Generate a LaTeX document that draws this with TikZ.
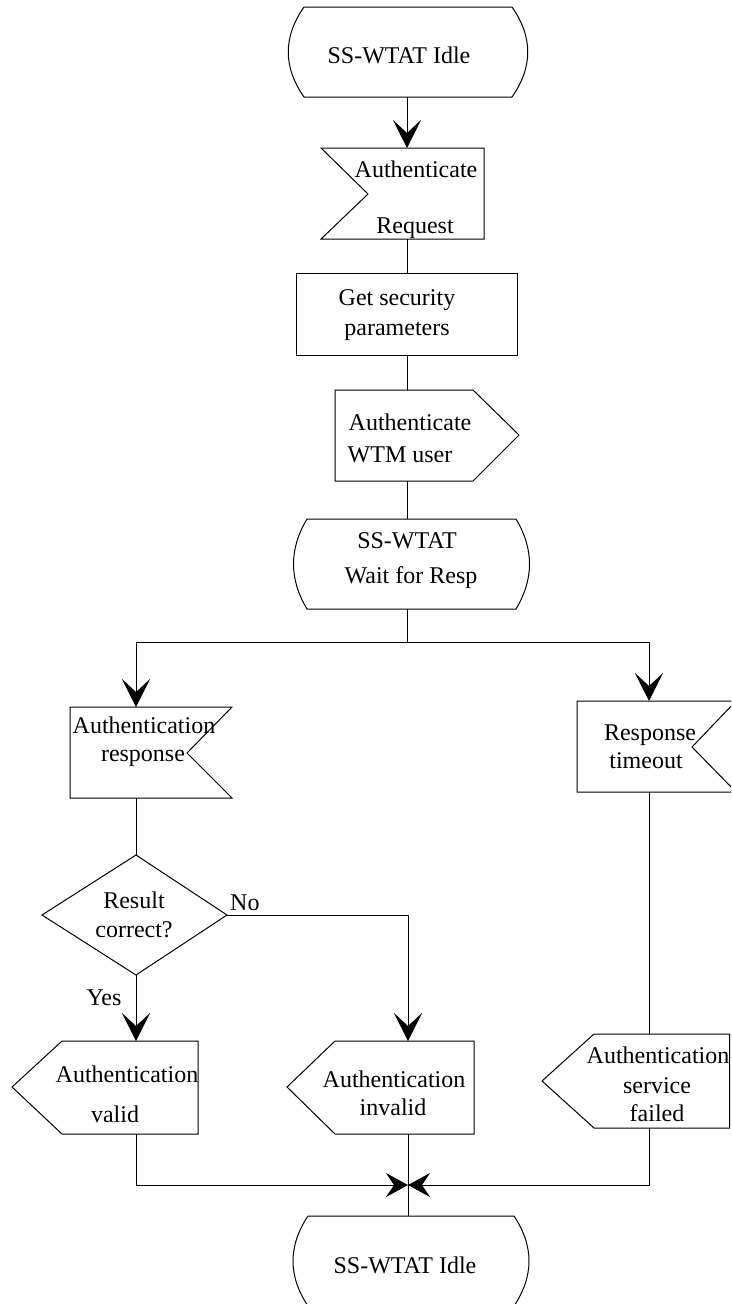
\documentclass[tikz,border=0pt]{standalone}
\usepackage{fontspec}
\setmainfont{Liberation Serif}
\usetikzlibrary{arrows.meta}
\newcommand\mystate[5]{%
  \draw[shp] (#1,#3) -- (#2,#3) .. controls (#2+#5,#3+30) and (#2+#5,#4-30) .. (#2,#4)
    -- (#1,#4) .. controls (#1-#5,#4-30) and (#1-#5,#3+30) .. (#1,#3) -- cycle;}
\begin{document}
\begin{tikzpicture}[x=1pt,y=-1pt,
  shp/.style={draw=black,line width=1pt,line join=miter},
  ln/.style={draw=black,line width=1pt},
  arr/.style={ln,-{Stealth[length=28pt,width=28pt,inset=13pt]}},
  jarr/.style={ln,-{Stealth[length=22pt,width=24pt,inset=8pt]}},
  txt/.style={font=\fontsize{24}{28}\selectfont,inner sep=0pt,anchor=base}]
\useasboundingbox (0,0) rectangle (731,1304);
\clip (0,0) rectangle (731,1304);
\fill[white] (0,0) rectangle (731,1304);

% ---- shapes ----
\mystate{304}{512}{7}{97}{21}
\draw[shp] (321,148) -- (484,148) -- (484,239) -- (321,239) -- (368,194) -- cycle;
\draw[shp] (296,273) rectangle (517,355);
\draw[shp] (335,390) -- (473,390) -- (519,435) -- (473,481) -- (335,481) -- cycle;
\mystate{307}{516}{519}{609}{18}
\draw[shp] (70,707) -- (232,707) -- (187,753) -- (232,798) -- (70,798) -- cycle;
\draw[shp] (577,701) -- (736,701) -- (692,747) -- (736,792) -- (577,792) -- cycle;
\draw[shp] (136,855) -- (227,915) -- (136,975) -- (42,915) -- cycle;
\draw[shp] (62,1041) -- (198,1041) -- (198,1134) -- (62,1134) -- (12,1087) -- cycle;
\draw[shp] (335,1041) -- (474,1041) -- (474,1134) -- (335,1134) -- (287,1087) -- cycle;
\draw[shp] (594,1034) -- (729.5,1034) -- (729.5,1128) -- (594,1128) -- (542,1081) -- cycle;
\mystate{308}{514}{1216}{1306}{20}

% ---- connection points ----
\coordinate (idleA-s) at (407,97);
\coordinate (req-n) at (407,148);
\coordinate (req-s) at (407,239);
\coordinate (task-n) at (407,273);
\coordinate (task-s) at (407,355);
\coordinate (auth-n) at (407,390);
\coordinate (auth-s) at (407,481);
\coordinate (wait-n) at (407,519);
\coordinate (wait-s) at (407,609);
\coordinate (split) at (407,642);
\coordinate (resp-n) at (136,707);
\coordinate (resp-s) at (136,798);
\coordinate (tmo-n) at (649,701);
\coordinate (tmo-s) at (649,792);
\coordinate (dec-n) at (136,855);
\coordinate (dec-e) at (227,915);
\coordinate (dec-s) at (136,975);
\coordinate (val-n) at (136,1041);
\coordinate (val-s) at (136,1134);
\coordinate (inv-n) at (408,1041);
\coordinate (inv-s) at (408,1134);
\coordinate (fail-n) at (649,1034);
\coordinate (fail-s) at (649,1128);
\coordinate (join) at (408,1185);
\coordinate (idleB-n) at (408,1216);

% ---- connectors ----
\draw[arr] (idleA-s) -- (req-n);
\draw[ln] (req-s) -- (task-n);
\draw[ln] (task-s) -- (auth-n);
\draw[ln] (auth-s) -- (wait-n);
\draw[ln] (wait-s) -- (split);
\draw[arr] (split) -| (resp-n);
\draw[arr] (split) -| (tmo-n);
\draw[ln] (resp-s) -- (dec-n);
\draw[arr] (dec-e) -| (inv-n);
\draw[arr] (dec-s) -- (val-n);
\draw[ln] (tmo-s) -- (fail-n);
\draw[jarr] (val-s) |- (join);
\draw[jarr] (fail-s) |- (join);
\draw[ln] (inv-s) -- (idleB-n);

% ---- texts ----
\node[txt] (t1) at (399,63) {SS-WTAT Idle};
\node[txt] (t2a) at (416,177) {Authenticate};
\node[txt] (t2b) at (415,233) {Request};
\node[txt] (t3a) at (397,305) {Get security};
\node[txt] (t3b) at (397,335) {parameters};
\node[txt] (t4a) at (410,430) {Authenticate};
\node[txt] (t4b) at (400,462) {WTM user};
\node[txt] (t5a) at (407,548) {SS-WTAT};
\node[txt] (t5b) at (411,583) {Wait for Resp};
\node[txt] (t6a) at (144,733) {Authentication};
\node[txt] (t6b) at (143,761) {response};
\node[txt] (t7a) at (650,740) {Response};
\node[txt] (t7b) at (646,768) {timeout};
\node[txt] (t8a) at (134,908) {Result};
\node[txt] (t8b) at (134,937) {correct?};
\node[txt,anchor=base west] (tno) at (230,910) {No};
\node[txt] (tyes) at (104,1005) {Yes};
\node[txt] (t9a) at (127,1082) {Authentication};
\node[txt] (t9b) at (115,1122) {valid};
\node[txt] (t10a) at (394,1087) {Authentication};
\node[txt] (t10b) at (393,1115) {invalid};
\node[txt] (t11a) at (658,1063) {Authentication};
\node[txt] (t11b) at (657,1093) {service};
\node[txt] (t11c) at (657,1121) {failed};
\node[txt] (t12) at (405,1273) {SS-WTAT Idle};
\end{tikzpicture}
\end{document}
